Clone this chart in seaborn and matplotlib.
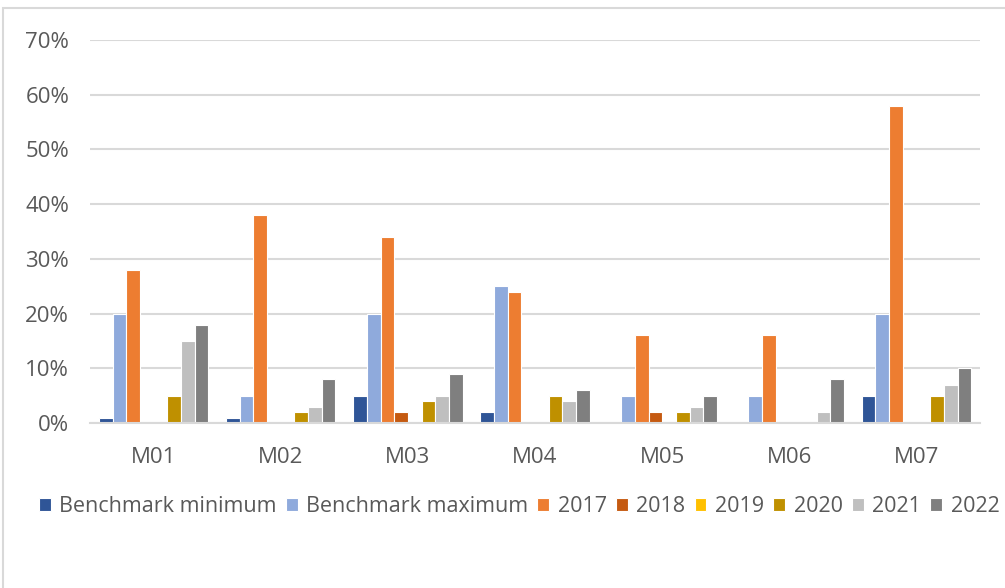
import pandas as pd
import seaborn as sns
import matplotlib.pyplot as plt
from matplotlib.patches import Rectangle

categories = ["M01", "M02", "M03", "M04", "M05", "M06", "M07"]
series = ["Benchmark minimum", "Benchmark maximum", "2017", "2018", "2019", "2020", "2021", "2022"]

bench_min = [0.01, 0.01, 0.05, 0.02, 0.00, 0.00, 0.05]
bench_max = [0.20, 0.05, 0.20, 0.25, 0.05, 0.05, 0.20]
y2017 = [0.28, 0.38, 0.34, 0.24, 0.16, 0.16, 0.58]
y2018 = [0.00, 0.00, 0.02, 0.00, 0.02, 0.00, 0.00]
y2019 = [0.00, 0.00, 0.00, 0.00, 0.00, 0.00, 0.00]
y2020 = [0.05, 0.02, 0.04, 0.05, 0.02, 0.00, 0.05]
y2021 = [0.15, 0.03, 0.05, 0.04, 0.03, 0.02, 0.07]
y2022 = [0.18, 0.08, 0.09, 0.06, 0.05, 0.08, 0.10]

colors = ["#2F5597", "#8FAADC", "#ED7D31", "#C55A11", "#FFC000", "#BF9000", "#BFBFBF", "#7F7F7F"]
yticks = [0, 0.1, 0.2, 0.3, 0.4, 0.5, 0.6, 0.7]
ytick_labels = ["0%", "10%", "20%", "30%", "40%", "50%", "60%", "70%"]

values = [bench_min, bench_max, y2017, y2018, y2019, y2020, y2021, y2022]
rows = []
for name, vals in zip(series, values):
    for cat, v in zip(categories, vals):
        rows.append({"category": cat, "series": name, "value": v})
df = pd.DataFrame(rows)

sns.set_theme(style="white")
plt.rcParams["font.family"] = ["Open Sans", "DejaVu Sans"]
text_color = "#595959"

fig = plt.figure(figsize=(10.05, 5.88), dpi=100)
ax = fig.add_axes([0.0896, 0.2806, 0.8856, 0.6514])

sns.barplot(data=df, x="category", y="value", hue="series", hue_order=series,
            palette=colors, saturation=1, width=0.86, edgecolor="white",
            linewidth=0.8, errorbar=None, ax=ax)

ax.set_ylim(0, 0.7)
ax.set_yticks(yticks)
ax.set_yticklabels(ytick_labels)
ax.yaxis.grid(True, color="#d9d9d9", linewidth=1.5)
ax.set_axisbelow(True)
for s in ["top", "right", "left"]:
    ax.spines[s].set_visible(False)
ax.spines["bottom"].set_color("#d9d9d9")
ax.spines["bottom"].set_linewidth(1.5)
ax.set_xlabel("")
ax.set_ylabel("")
ax.tick_params(axis="both", length=0, labelsize=16, labelcolor=text_color)
ax.tick_params(axis="y", pad=15)
ax.tick_params(axis="x", pad=17)

handles, labels = ax.get_legend_handles_labels()
ax.get_legend().remove()
fig.legend(handles, labels, loc="center left", bbox_to_anchor=(0.03, 0.138),
           ncol=8, frameon=False, fontsize=15.5, labelcolor=text_color,
           handlelength=0.55, handleheight=0.55, handletextpad=0.4,
           columnspacing=0.42, borderaxespad=0)

fig.patches.append(Rectangle((0.003, -0.1), 1.2, 1.0864, transform=fig.transFigure,
                             fill=False, edgecolor="#d9d9d9", linewidth=1.5))

fig.savefig("out.png", dpi=100)
